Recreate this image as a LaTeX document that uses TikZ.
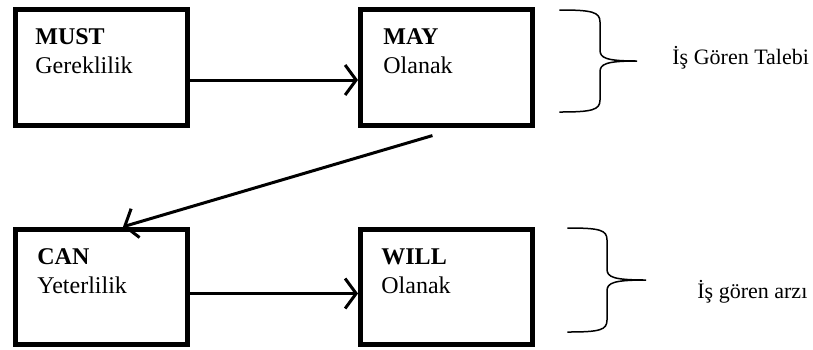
\documentclass[tikz,border=0pt]{standalone}
\usepackage{fontspec}
\setmainfont{Liberation Serif}
\usetikzlibrary{arrows.meta,positioning}

\begin{document}
\begin{tikzpicture}[x=0.5pt, y=-0.5pt, line cap=rect, arr/.style={line width=1.5pt,-{Straight Barb[length=5.5pt,width=15pt]}},box node/.style={rectangle,draw,line width=2.5pt,minimum width=86pt,minimum height=57.75pt,inner sep=0pt},box text/.style={anchor=north west,inner sep=0pt,align=left,font=\fontsize{12}{14.5}\selectfont},side text/.style={anchor=base west,inner sep=0pt,font=\fontsize{11}{13}\selectfont}]
\useasboundingbox (0,0) rectangle (813,349);
\begin{scope}
\node[box node] (must) at (101.5,67.5) {};
\node[box node] (may) at (446.5,67.5) {};
\node[box node] (can) at (101.5,287) {};
\node[box node] (will) at (446.5,287) {};
\node[box text] (musttext) at (35,28) {\textbf{MUST}\\Gereklilik};
\node[box text] (maytext) at (383,28) {\textbf{MAY}\\Olanak};
\node[box text] (cantext) at (37,248) {\textbf{CAN}\\Yeterlilik};
\node[box text] (willtext) at (381,248) {\textbf{WILL}\\Olanak};
\node[side text] (talep) at (672,64) {İş Gören Talebi};
\node[side text] (arz) at (697,298) {İş gören arzı};
\coordinate (mayout) at (431,136);
\end{scope}
\begin{scope}
\draw[arr] ([yshift=-6.25pt]must.east) -- ([yshift=-6.25pt]may.west);
\draw[arr] (mayout) -- ([xshift=10.75pt]can.north);
\draw[arr] ([yshift=-3.25pt]can.east) -- ([yshift=-3.25pt]will.west);
% braces
\draw[line width=0.75pt] (560,10) .. controls (592,10) and (600,12) .. (600,22) -- (600,50) .. controls (600,58) and (606,61) .. (637,61) .. controls (606,61) and (600,64) .. (600,72) -- (600,100) .. controls (600,110) and (592,112) .. (560,112);
\draw[line width=0.75pt] (568,228) .. controls (600,228) and (607,230) .. (607,240) -- (607,269) .. controls (607,277) and (613,280) .. (646,280) .. controls (613,280) and (607,283) .. (607,291) -- (607,320) .. controls (607,330) and (600,332) .. (568,332);
\end{scope}
\end{tikzpicture}
\end{document}
